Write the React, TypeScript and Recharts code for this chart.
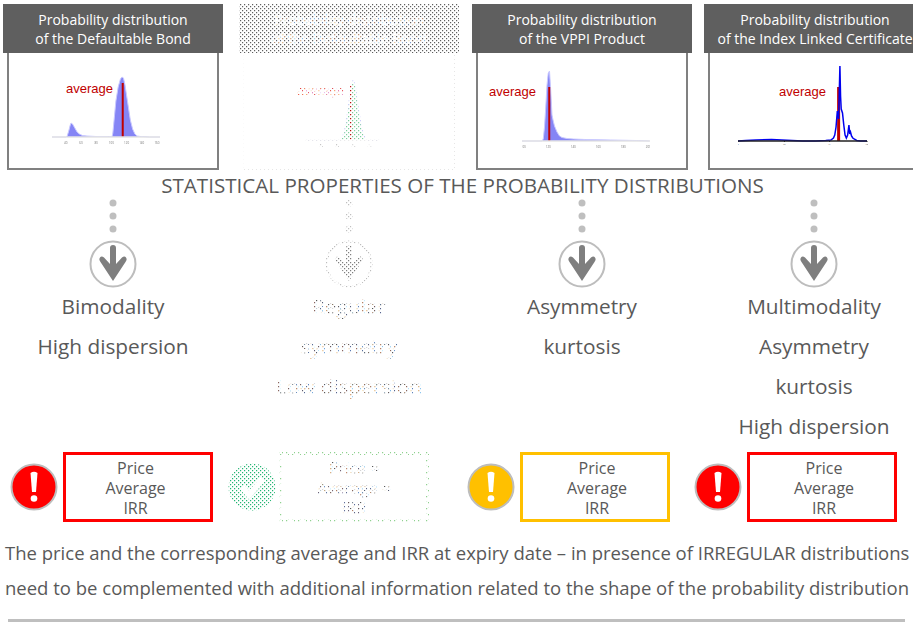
import React from "react";
import { ComposedChart, Area, Line, XAxis, YAxis, ReferenceLine } from "recharts";

const bondX = [22, 40, 42, 44, 46, 47, 49, 52, 55, 58, 62, 68, 80, 96, 101, 102, 104, 106, 109, 112, 114, 116, 118, 120, 122, 125, 128, 131, 134, 138, 142, 150, 164];
const bondY = [0, 0, 1, 6, 12, 14, 13, 9, 5, 3, 1.5, 1, 0.5, 0.5, 0.5, 4, 20, 36, 50, 58, 60, 59, 52, 42, 32, 17, 8, 3, 1, 0.5, 0.5, 0, 0];
const bondTicks = [40, 60, 80, 100, 120, 140, 160];
const bondAverage = 115;

const regularX = [55, 88, 90, 92, 94, 96, 98, 100, 102, 104, 106, 108, 110, 112, 125];
const regularY = [0, 0, 3, 10, 22, 38, 54, 60, 54, 38, 24, 12, 5, 0, 0];
const regularTicks = [70, 85, 100, 115];
const regularAverage = 98;

const vppiX = [99, 115, 116, 117, 118, 119, 120, 121, 122, 123, 124, 125, 127, 129, 131, 135, 140, 150, 170, 190, 201];
const vppiY = [0, 0, 2, 14, 34, 56, 68, 70, 50, 26, 20, 15, 9, 5, 3.5, 2.5, 2, 1.5, 1, 0.5, 0];
const vppiTicks = [100, 120, 140, 160, 180, 200];
const vppiAverage = 120.8;

const indexTicks = [0, 36, 71, 100];
const indexAverage = 78;
const spikeX = [0, 6, 14, 26, 34, 50, 60, 68, 72, 74, 75, 76, 77, 78, 79, 79.5, 80, 81, 82, 83, 84, 85, 86, 86.6, 87.2, 88, 89, 90, 92, 95, 100];
const spikeY = [0, 0.5, 1, 1.5, 1, 0, 0, 0.5, 1, 3, 6, 14, 30, 22, 75, 45, 32, 28, 16, 6, 3, 6, 16, 7, 9, 5, 3, 2, 0.5, 0, 0];

const titles = [
  ["Probability distribution", "of the Defaultable Bond"],
  ["Probability distribution", "of the Defaultable Bond"],
  ["Probability distribution", "of the VPPI Product"],
  ["Probability distribution", "of the Index Linked Certificate"],
];
const properties = [
  ["Bimodality", "High dispersion"],
  ["Regular", "symmetry", "Low dispersion"],
  ["Asymmetry", "kurtosis"],
  ["Multimodality", "Asymmetry", "kurtosis", "High dispersion"],
];
const boxLines = [
  ["Price", "Average", "IRR"],
  ["Price ≈", "Average ≈", "IRR"],
  ["Price", "Average", "IRR"],
  ["Price", "Average", "IRR"],
];
const heading = "STATISTICAL PROPERTIES OF THE PROBABILITY DISTRIBUTIONS";
const footer = [
  "The price and the corresponding average and IRR at expiry date – in presence of IRREGULAR distributions",
  "need to be complemented with additional information related to the shape of the probability distribution",
];

const SANS = "'Open Sans', sans-serif";
const zip = (xs: number[], ys: number[]) => xs.map((x, i) => ({ x, y: ys[i] }));

const abs = (l: number, t: number, w: number, h: number): React.CSSProperties => ({
  position: "absolute", left: l, top: t, width: w, height: h, boxSizing: "border-box",
});

function MiniArea({ left, top, width, height, data, domain, ticks, ymax, fill, average, avgTop, tickFill }: any) {
  return (
    <div style={{ ...abs(left, top, width, height + 8), filter: "blur(0.5px)" }}>
      <ComposedChart width={width} height={height + 8} data={data} margin={{ top: 0, right: 0, bottom: 0, left: 0 }}>
        <XAxis dataKey="x" type="number" domain={domain} ticks={ticks} height={8} interval={0} allowDataOverflow
          axisLine={{ stroke: "#e4e4e4", strokeWidth: 1.5 }} tickLine={false}
          tick={{ fontSize: 3, fill: tickFill, dy: -3 }} />
        <YAxis hide domain={[0, ymax]} />
        <Area dataKey="y" type="linear" stroke="#c9c9ff" strokeWidth={1} fill={fill} fillOpacity={1} isAnimationActive={false} />
        <ReferenceLine segment={[{ x: average, y: 0 }, { x: average, y: avgTop }]} stroke="#c00000" strokeWidth={2} />
      </ComposedChart>
    </div>
  );
}

function Arrow({ cx }: { cx: number }) {
  return (
    <svg style={abs(cx - 26, 198, 52, 94)} viewBox="0 0 52 94">
      <circle cx={26} cy={5} r={3.5} fill="#bfbfbf" />
      <circle cx={26} cy={18} r={3.5} fill="#bfbfbf" />
      <circle cx={26} cy={31} r={3.5} fill="#bfbfbf" />
      <circle cx={26} cy={66} r={22.5} fill="#fff" stroke="#bdbdbd" strokeWidth={2} />
      <path d="M23 50 Q23 47 26 47 Q29 47 29 50 V66 L35 59.5 Q37.5 57.5 39 59.5 Q40.5 61.5 38.5 64 L26 83 L13.5 64 Q11.5 61.5 13 59.5 Q14.5 57.5 17 59.5 L23 66 Z" fill="#7f7f7f" />
    </svg>
  );
}

function Alert({ cx, color, kind }: { cx: number; color: string; kind: string }) {
  return (
    <svg style={abs(cx - 25, 462, 50, 50)} viewBox="0 0 50 50">
      <circle cx={25} cy={25} r={22.5} fill={color} stroke={kind === "check" ? color : "#bdbdbd"} strokeWidth={2} />
      {kind === "check" ? (
        <path d="M15 25 L22 33 L36 17" fill="none" stroke="#fff" strokeWidth={6} />
      ) : (
        <>
          <path d="M21.5 11 Q25 8.5 28.5 11 L27 30 H23 Z" fill="#fff" />
          <circle cx={25} cy={36.5} r={3.3} fill="#fff" />
        </>
      )}
    </svg>
  );
}

function Stipple({ l, t, w, h, id }: { l: number; t: number; w: number; h: number; id: string }) {
  return (
    <svg style={abs(l, t, w, h)} width={w} height={h}>
      <defs>
        <pattern id={id} width={4} height={4} patternUnits="userSpaceOnUse">
          <path d="M0 0H4V4H0Z M0 0V1.2H1.2V0Z M2 2V3.2H3.2V2Z" fill="#fff" fillRule="evenodd" />
        </pattern>
      </defs>
      <rect width={w} height={h} fill={`url(#${id})`} />
    </svg>
  );
}

const headerX = [3, 239, 472, 704];
const frameX = [7, 243, 476, 708];
const centers = [113, 349, 582, 814];
const alertX = [34, 252, 491, 718];
const alertColor = ["#ff0000", "#22b573", "#ffc000", "#ff0000"];
const alertKind = ["warn", "check", "warn", "warn"];
const boxX = [63, 279, 520, 747];
const boxColor = ["#ff0000", "#8fd18f", "#ffc000", "#ff0000"];
const boxTextCenter = [135.5, 354, 597, 824];

export default function App() {
  return (
    <div style={{ position: "fixed", left: 0, top: 0, width: 913, height: 643, overflow: "hidden", background: "#fff", fontFamily: SANS, color: "#595959" }}>
      {titles.map((t, i) => (
        <React.Fragment key={i}>
          <div style={{ ...abs(frameX[i], 53, 212, 117), border: i === 1 ? "1px dotted #999" : "2px solid #808080", borderTop: "none" }} />
          <div style={{ ...abs(headerX[i], 4, i === 3 ? 222 : 220, 49), background: "#5f5f5f", color: "#fff", fontSize: 14, lineHeight: "19px", textAlign: "center", paddingTop: 6, whiteSpace: "nowrap" }}>
            {t[0]}<br />{t[1]}
          </div>
        </React.Fragment>
      ))}

      <MiniArea left={52} top={70} width={108} height={67} data={zip(bondX, bondY)} domain={[22, 164]} ticks={bondTicks} ymax={67} fill="#8585f5" average={bondAverage} avgTop={54} tickFill="#777" />
      <div style={{ ...abs(66, 80, 60, 18), color: "#c00000", fontFamily: "'Liberation Sans', sans-serif", fontSize: 13, lineHeight: "18px" }}>average</div>

      <MiniArea left={305} top={72} width={75} height={68} data={zip(regularX, regularY)} domain={[55, 125]} ticks={regularTicks} ymax={68} fill="#7fd19f" average={regularAverage} avgTop={55} tickFill="#777" />
      <div style={{ ...abs(297, 82, 60, 18), color: "#e04040", fontFamily: "'Liberation Sans', sans-serif", fontSize: 13, lineHeight: "18px" }}>average</div>

      <MiniArea left={522} top={65} width={128} height={76} data={zip(vppiX, vppiY)} domain={[99, 201.4]} ticks={vppiTicks} ymax={76} fill="#8585f5" average={vppiAverage} avgTop={54} tickFill="#777" />
      <div style={{ ...abs(489, 83, 60, 18), color: "#c00000", fontFamily: "'Liberation Sans', sans-serif", fontSize: 13, lineHeight: "18px" }}>average</div>

      <div style={{ ...abs(738, 65, 130, 84) }}>
        <ComposedChart width={130} height={84} data={zip(spikeX, spikeY)} margin={{ top: 0, right: 1, bottom: 0, left: 0 }}>
          <XAxis dataKey="x" type="number" domain={[0, 100]} ticks={indexTicks} height={8} interval={0}
            axisLine={{ stroke: "#222", strokeWidth: 1.5 }} tick={{ fontSize: 2, fill: "#555" }} tickSize={1} tickLine={{ stroke: "#222" }} />
          <YAxis hide domain={[0, 76]} />
          <ReferenceLine segment={[{ x: indexAverage, y: 0 }, { x: indexAverage, y: 54 }]} stroke="#c00000" strokeWidth={3} />
          <Line dataKey="y" type="linear" stroke="#0000ee" strokeWidth={1.5} dot={false} isAnimationActive={false} />
        </ComposedChart>
      </div>
      <div style={{ ...abs(779, 83, 60, 18), color: "#c00000", fontFamily: "'Liberation Sans', sans-serif", fontSize: 13, lineHeight: "18px" }}>average</div>

      <div style={{ ...abs(0, 171, 925, 28), fontSize: 20.6, lineHeight: "28px", textAlign: "center", whiteSpace: "nowrap" }}>{heading}</div>

      {centers.map((c, i) => (
        <React.Fragment key={i}>
          <Arrow cx={c} />
          {properties[i].map((p, j) => (
            <div key={j} style={{ ...abs(c - 110, 290 + j * 40, 220, 32), fontSize: 20.8, lineHeight: "32px", textAlign: "center", whiteSpace: "nowrap" }}>{p}</div>
          ))}
        </React.Fragment>
      ))}

      {boxLines.map((b, i) => (
        <React.Fragment key={i}>
          <Alert cx={alertX[i]} color={alertColor[i]} kind={alertKind[i]} />
          <div style={{ ...abs(boxX[i], 452, 150, 70), border: `3px ${i === 1 ? "dotted" : "solid"} ${boxColor[i]}` }} />
          {b.map((s, j) => (
            <div key={j} style={{ ...abs(boxTextCenter[i] - 70, 458 + j * 20, 140, 20), fontSize: 16, lineHeight: "20px", textAlign: "center", whiteSpace: "nowrap" }}>{s}</div>
          ))}
        </React.Fragment>
      ))}

      {footer.map((f, i) => (
        <div key={i} style={{ ...abs(5, 540 + i * 35, 908, 26), fontSize: 18.5, lineHeight: "26px", whiteSpace: "nowrap" }}>{f}</div>
      ))}
      <div style={{ ...abs(8, 619, 897, 3), background: "#bfbfbf" }} />

      <Stipple l={228} t={0} w={232} h={172} id="s1" />
      <Stipple l={240} t={196} w={220} h={210} id="s2" />
      <Stipple l={226} t={448} w={206} h={78} id="s3" />
    </div>
  );
}
